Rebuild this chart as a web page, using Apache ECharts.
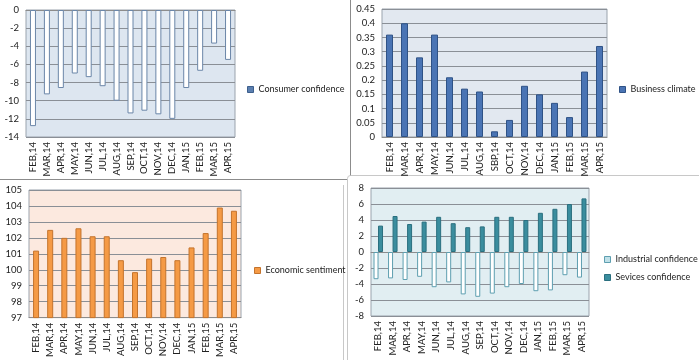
<!DOCTYPE html>
<html><head><meta charset="utf-8">
<script src="https://cdn.jsdelivr.net/npm/echarts@6/dist/echarts.min.js"></script>
<style>html,body{margin:0;padding:0;background:#fff}#c{width:699px;height:360px}</style>
</head><body><div id="c"></div>
<script>
const categories = ['FEB,14','MAR,14','APR,14','MAY,14','JUN,14','JUL,14','AUG,14','SEP,14','OCT,14','NOV,14','DEC,14','JAN,15','FEB,15','MAR,15','APR,15'];
const categories2 = ['FEB,14','MAR,14','APR,14','MAY,14','JUN,14','JUL,14','AUG,14','SBP,14','OCT,14','NOV,14','DEC,14','JAN,15','FEB,15','MAR,15','APR,15'];
const consumerConfidence = [-12.8,-9.3,-8.6,-7.0,-7.4,-8.4,-10.0,-11.4,-11.1,-11.5,-12.0,-8.6,-6.7,-3.7,-5.5];
const businessClimate = [0.36,0.40,0.28,0.36,0.21,0.17,0.16,0.02,0.06,0.18,0.15,0.12,0.07,0.23,0.32];
const economicSentiment = [101.2,102.5,102.0,102.6,102.1,102.1,100.6,99.85,100.7,100.8,100.6,101.4,102.3,103.9,103.7];
const industrialConfidence = [-3.4,-3.3,-3.5,-3.1,-4.4,-3.8,-5.3,-5.6,-5.2,-4.4,-4.0,-4.9,-4.8,-2.9,-3.2];
const servicesConfidence = [3.3,4.5,3.5,3.8,4.4,3.6,3.1,3.2,4.4,4.4,4.0,4.9,5.4,6.0,6.7];

const FONT = 'Lato, "Liberation Sans", sans-serif';
const chart = echarts.init(document.getElementById('c'), null, {renderer:'canvas'});

function grid(left, top, width, height, bg){
  return {left, top, width, height, show:true, backgroundColor:bg, borderColor:'#9aa3ad', borderWidth:1, containLabel:false};
}
function xAxis(i, cats){
  return {type:'category', gridIndex:i, data:cats,
    axisLine:{show:true, lineStyle:{color:'#8c8c8c'}}, axisTick:{show:false},
    axisLabel:{rotate:90, fontSize:9.5, color:'#222', fontFamily:FONT, interval:0, margin:5},
    splitLine:{show:false}};
}
function yAxis(i, min, max, interval, decimals){
  return {type:'value', gridIndex:i, min, max, interval,
    axisLine:{show:false}, axisTick:{show:false},
    axisLabel:{fontSize:9.5, color:'#222', fontFamily:FONT, margin:7,
      formatter: v => decimals ? (Math.round(v*100)/100).toString() : String(v)},
    splitLine:{show:true, lineStyle:{color:'#8a8f96', width:1}}};
}
function legend(names, left, top, colors){
  return {data:names.map((n,k)=>({name:n, itemStyle:colors[k]})), left, top, padding:0, orient:'vertical', itemWidth:6, itemHeight:6, itemGap:9,
    textStyle:{fontSize:9, color:'#222', fontFamily:FONT}, icon:'rect', selectedMode:false};
}

const option = {
  animation:false,
  grid:[
    grid(26, 10, 209, 127, '#dde6f0'),
    grid(382, 9, 225, 128, '#e2e8f0'),
    grid(29, 190, 212, 128, '#fce9df'),
    grid(371, 188, 218, 128, '#e1eef2')
  ],
  xAxis:[xAxis(0,categories), xAxis(1,categories2), xAxis(2,categories), xAxis(3,categories)],
  yAxis:[yAxis(0,-14,0,2,false), yAxis(1,0,0.45,0.05,true), yAxis(2,97,105,1,false), yAxis(3,-8,8,2,false)],
  legend:[
    legend(['Consumer confidence'], 247, 85, [{color:'#5b7fb0', borderColor:'#3d5f8c', borderWidth:1}]),
    legend(['Business climate'], 619, 85, [{color:'#4a74b4', borderColor:'#2f5286', borderWidth:1}]),
    legend(['Economic sentiment'], 254, 266, [{color:'#f59a45', borderColor:'#c4732c', borderWidth:1}]),
    legend(['Industrial confidence','Sevices confidence'], 604, 255,
      [{color:'#bfe0e8', borderColor:'#5e9fb0', borderWidth:1},{color:'#3a8d9e', borderColor:'#2a6f7f', borderWidth:1}])
  ],
  series:[
    {name:'Consumer confidence', type:'bar', xAxisIndex:0, yAxisIndex:0, data:consumerConfidence, barWidth:6,
      itemStyle:{color:'#ffffff', borderColor:'#6b86a8', borderWidth:1}},
    {name:'Business climate', type:'bar', xAxisIndex:1, yAxisIndex:1, data:businessClimate, barWidth:7,
      itemStyle:{color:'#4a74b4', borderColor:'#2f5286', borderWidth:1}},
    {name:'Economic sentiment', type:'bar', xAxisIndex:2, yAxisIndex:2, data:economicSentiment, barWidth:6,
      itemStyle:{color:'#f59a45', borderColor:'#c4732c', borderWidth:1}},
    {name:'Industrial confidence', type:'bar', xAxisIndex:3, yAxisIndex:3, data:industrialConfidence, barWidth:5, barGap:'-10%',
      itemStyle:{color:'#ffffff', borderColor:'#5e9fb0', borderWidth:1}},
    {name:'Sevices confidence', type:'bar', xAxisIndex:3, yAxisIndex:3, data:servicesConfidence, barWidth:5, barGap:'-10%',
      itemStyle:{color:'#3a8d9e', borderColor:'#2a6f7f', borderWidth:1}}
  ],
  graphic:[
    {type:'line', shape:{x1:350.5,y1:0,x2:350.5,y2:176}, style:{stroke:'#8c8c8c', lineWidth:1}},
    {type:'line', shape:{x1:0,y1:179.5,x2:347,y2:179.5}, style:{stroke:'#8c8c8c', lineWidth:1}},
    {type:'rect', shape:{x:347.5,y:175.5,width:360,height:200, r:3}, style:{fill:'none', stroke:'#c8c8c8', lineWidth:1}},
    {type:'line', shape:{x1:343.5,y1:185,x2:343.5,y2:360}, style:{stroke:'#c8c8c8', lineWidth:1}}
  ]
};
chart.setOption(option);
</script>
</body></html>
